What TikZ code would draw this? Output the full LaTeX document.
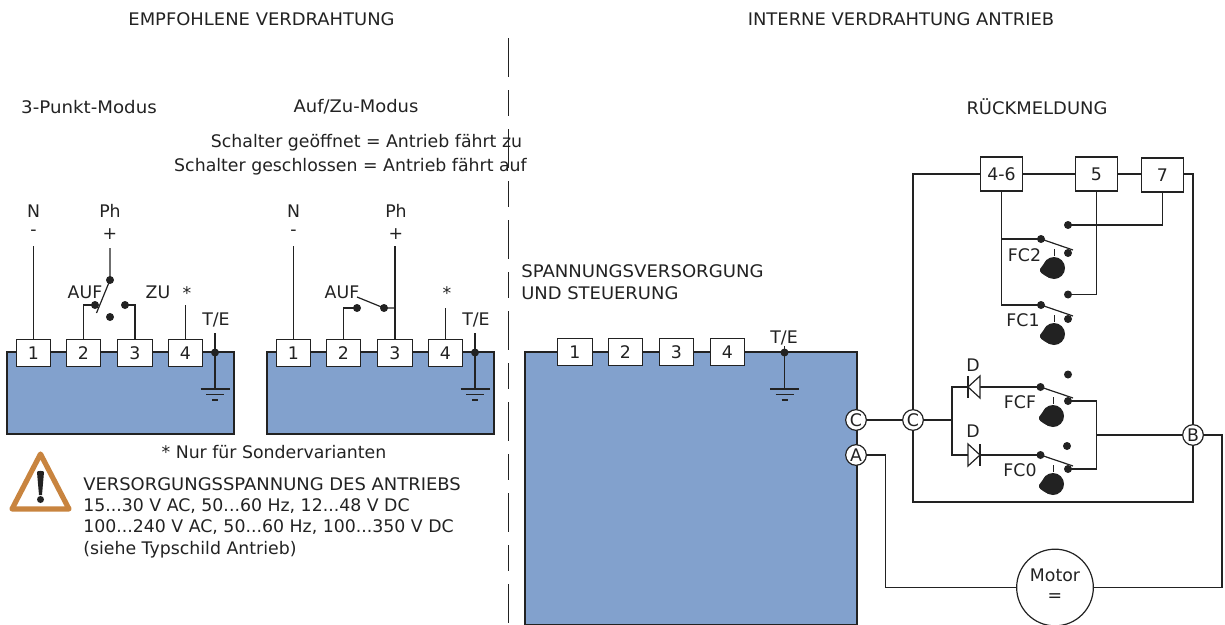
\documentclass[tikz,border=0pt]{standalone}
\usepackage{fontspec}
\usepackage{graphicx}
\setmainfont{DejaVu Sans}
\definecolor{ink}{HTML}{222222}
\definecolor{bluefill}{HTML}{82A1CD}
\definecolor{warn}{HTML}{C8843F}
\newcommand{\widen}[1]{\scalebox{1.035}[1]{#1}}
\tikzset{
  x=0.75pt,y=-0.75pt,
  lbl/.style={inner sep=0pt,text=ink,font=\fontsize{13}{15}\selectfont},
  lblleft/.style={lbl,anchor=west},
  wire/.style={draw=ink,line width=0.9pt},
  blockbox/.style={draw=ink,fill=bluefill,line width=1.1pt,inner sep=0pt},
  termbox/.style={draw=ink,fill=white,line width=0.9pt,inner sep=0pt,minimum width=25.8pt,minimum height=20pt,text=ink,font=\fontsize{13}{15}\selectfont},
  fbbox/.style={termbox,minimum width=32pt,minimum height=25.5pt},
  dotn/.style={circle,fill=ink,inner sep=0pt,minimum size=6pt},
  ringn/.style={circle,draw=ink,fill=white,line width=0.9pt,inner sep=0pt,minimum size=15.5pt,text=ink,font=\fontsize{13}{15}\selectfont},
  cam/.pic={\fill[ink] (0,0) circle (11) ; \fill[ink] (-7,-8.5) -- (-14,1) .. controls (-15,4) and (-12,6) .. (-5,9.8) -- cycle;
            \draw[wire,line width=0.6pt] (0,-19) -- (0,-12.5);},
  gnd/.pic={\draw[wire] (-14.5,0) -- (14.5,0); \draw[wire] (-9,5.5) -- (9,5.5); \draw[wire] (-3,11) -- (3,11);},
}
\begin{document}
\begin{tikzpicture}
\useasboundingbox (0,0) rectangle (1225,625);
% separator
\coordinate (sepA) at (508.7,38); \coordinate (sepB) at (508.7,625);
\draw[ink,line width=0.8pt,dash pattern=on 29.25pt off 9.75pt on 19.5pt off 9.75pt] (sepA) -- (sepB);
% titles
\node[lbl] (t1) at (261.5,19) {\widen{EMPFOHLENE VERDRAHTUNG}};
\node[lbl] (t2) at (901,19) {\widen{INTERNE VERDRAHTUNG ANTRIEB}};
\node[lbl] (t3) at (89,107) {\scalebox{1.05}[1]{3-Punkt-Modus}};
\node[lbl] (t4) at (356,107) {\widen{Auf/Zu-Modus}};
\node[lbl] (t5) at (1037,107) {\widen{RÜCKMELDUNG}};
\node[lbl] (t6) at (366.5,143) {Schalter geöffnet = Antrieb fährt zu};
\node[lbl] (t7) at (350.5,167) {Schalter geschlossen = Antrieb fährt auf};
\node[lblleft] (t8) at (521,271) {\scalebox{1.043}[1]{SPANNUNGSVERSORGUNG}};
\node[lblleft] (t9) at (521,293) {\widen{UND STEUERUNG}};
\node[lbl] (t10) at (274,452) {* Nur für Sondervarianten};
\node[lblleft] (w1) at (83,484) {\widen{VERSORGUNGSSPANNUNG DES ANTRIEBS}};
\node[lblleft] (w2) at (83,506) {15...30 V AC, 50...60 Hz, 12...48 V DC};
\node[lblleft] (w3) at (83,527) {100...240 V AC, 50...60 Hz, 100...350 V DC};
\node[lblleft] (w4) at (83,550) {(siehe Typschild Antrieb)};
% warning triangle
\draw[warn,line width=3.9pt,line join=round,fill=white] (40.5,454) -- (69,509) -- (12,509) -- cycle;
\fill[ink] (37,472) .. controls (37.5,470.5) and (43.5,470.5) .. (44,472) -- (42,495) -- (39,495) -- cycle;
\fill[ink] (40.5,499.5) circle (3.5);
% blocks
\node[blockbox,minimum width=170.25pt,minimum height=61.5pt] (blkA) at (120.5,393) {};
\node[blockbox,minimum width=170.25pt,minimum height=61.5pt] (blkB) at (380.5,393) {};
\node[blockbox,minimum width=249pt,minimum height=204.75pt] (blkC) at (691,488.5) {};
% terminals
\foreach \n/\x in {1/33.5,2/83.5,3/135,4/185.5} \node[termbox] (a\n) at (\x,353) {\n};
\foreach \n/\x in {1/293.5,2/343.5,3/395,4/445.5} \node[termbox] (b\n) at (\x,353) {\n};
\foreach \n/\x in {1/575,2/625.5,3/676.5,4/727.5} \node[termbox] (c\n) at (\x,352) {\n};
% labels mode A
\node[lbl] (aN) at (33.5,211) {N}; \node[lbl] (aM) at (33.5,233) {-};
\node[lbl] (aPh) at (110,211) {Ph}; \node[lbl] (aP) at (110,234) {+};
\node[lbl] (aAuf) at (85,292) {AUF}; \node[lbl] (aZu) at (158,292) {ZU};
\node[lbl] (aS) at (187,293) {*}; \node[lbl] (aTE) at (216,320) {T/E};
% labels mode B
\node[lbl] (bN) at (293.5,211) {N}; \node[lbl] (bM) at (293.5,233) {-};
\node[lbl] (bPh) at (396,211) {Ph}; \node[lbl] (bP) at (396,234) {+};
\node[lbl] (bAuf) at (342,292) {AUF};
\node[lbl] (bS) at (447,293) {*}; \node[lbl] (bTE) at (476,320) {T/E};
\node[lbl] (cTE) at (784,338) {T/E};
% mode A wiring
\coordinate (aN0) at (33.5,246); \draw[wire] (aN0) -- (a1.north);
\node[dotn] (aD0) at (110,280) {}; \node[dotn] (aD1) at (95,305) {}; \node[dotn] (aD2) at (110,317) {}; \node[dotn] (aD3) at (125,305) {};
\coordinate (aP0) at (110,248); \coordinate (aBl) at (96.5,313);
\draw[wire] (aP0) -- (aD0.center) -- (aBl);
\draw[wire] (a2.north) |- (aD1.center);
\draw[wire] (a3.north) |- (aD3.center);
\coordinate (a4T) at (185.5,305); \draw[wire] (a4T) -- (a4.north);
\node[dotn] (aE) at (215,352.5) {}; \coordinate (aE0) at (215,333); \coordinate (aG) at (215,389);
\draw[wire] (aE0) -- (aE.center) -- (aG);
\pic at (aG) {gnd};
% mode B wiring
\coordinate (bN0) at (293.5,246); \draw[wire] (bN0) -- (b1.north);
\coordinate (bP0) at (395,246); \draw[wire] (bP0) -- (b3.north);
\node[dotn] (bD1) at (384,308) {}; \node[dotn] (bD2) at (357,308) {};
\coordinate (bJ) at (395,308); \coordinate (bBl) at (357,297);
\draw[wire] (bJ) -- (bD1.center) -- (bBl);
\draw[wire] (b2.north) |- (bD2.center);
\coordinate (b4T) at (445.5,308); \draw[wire] (b4T) -- (b4.north);
\node[dotn] (bE) at (475,352.5) {}; \coordinate (bE0) at (475,333); \coordinate (bG) at (475,389);
\draw[wire] (bE0) -- (bE.center) -- (bG);
\pic at (bG) {gnd};
% internal earth
\node[dotn] (cE) at (784.5,352.5) {}; \coordinate (cE0) at (784.5,346); \coordinate (cG) at (784.5,389);
\draw[wire] (cE0) -- (cE.center) -- (cG);
\pic at (cG) {gnd};
% feedback boxes
\node[fbbox] (f46) at (1001.5,174) {4-6};
\node[fbbox] (f5) at (1096.5,174) {5};
\node[fbbox] (f7) at (1162.5,175) {7};
% rings and motor
\node[ringn] (rC) at (856,420) {C};
\node[ringn] (rA) at (856,455) {A};
\node[ringn] (rC2) at (913,420) {C};
\node[ringn] (rB) at (1193,435) {B};
\node[circle,draw=ink,fill=white,line width=0.9pt,inner sep=0pt,minimum size=57.5pt] (mot) at (1055,587.5) {};
\node[lbl] (motL) at (1055,575) {Motor};
\node[lbl] (motE) at (1055,598) {=};
% outer feedback loop
\draw[wire] (rC) -- (rC2);
\coordinate (ktl) at (913,174); \coordinate (ktr) at (1193,174); \coordinate (kbl) at (913,502); \coordinate (kbr) at (1193,502);
\draw[wire] (rC2) -- (ktl) -- (f46.west);
\draw[wire] (f46) -- (f5);
\draw[wire] (f5.east |- 0,174) -- (f7.west |- 0,174);
\draw[wire] (f7.east |- 0,174) -- (ktr) -- (rB);
\draw[wire] (rC2) -- (kbl) -- (kbr) -- (rB);
% motor loop
\coordinate (ma) at (885.5,455); \coordinate (mb) at (885.5,587.5); \coordinate (mc) at (1222,587.5); \coordinate (md) at (1222,435);
\draw[wire] (rA) -- (ma) -- (mb) -- (mot);
\draw[wire] (mot) -- (mc) -- (md) -- (rB);
% FC2 / FC1
\foreach \k/\y/\u in {FCb/239/225,FCa/305/294.5}{
  \node[dotn] (\k L) at (1041,\y) {};
  \node[dotn] (\k R) at (1068,\y+14) {};
  \node[dotn] (\k U) at (1068,\u) {};
  \coordinate (\k T) at (1073,\y+11);
  \draw[wire] (\k L.center) -- (\k T);
}
\coordinate (s46b) at (1001.5,239); \coordinate (s46a) at (1001.5,305);
\draw[wire] (f46.south) -- (s46a) -- (FCaL.center);
\draw[wire] (s46b) -- (FCbL.center);
\draw[wire] (FCbU.center) -| (f7.south);
\draw[wire] (FCaU.center) -| (f5.south);
\pic at (1054,268) {cam};
\pic at (1054,334) {cam};
\node[lbl] (lFC2) at (1024.5,255) {FC2};
\node[lbl] (lFC1) at (1023,320) {FC1};
% FCF / FC0
\foreach \k/\y in {FCF/387,FCO/455}{
  \node[dotn] (\k L) at (1040.5,\y) {};
  \node[dotn] (\k R) at (1068,\y+14) {};
  \coordinate (\k T) at (1073,\y+11);
  \draw[wire] (\k L.center) -- (\k T);
}
\node[dotn] (FCFU) at (1068,374.5) {};
\node[dotn] (FCOU) at (1067,446) {};
\coordinate (jC) at (952,420); \coordinate (jT) at (952,387); \coordinate (jB) at (952,455);
\coordinate (dUa) at (968,387); \coordinate (dUb) at (980,387);
\coordinate (dLa) at (968,455); \coordinate (dLb) at (980,455);
\draw[wire] (rC2) -- (jC);
\draw[wire] (dUa) -- (jT) -- (jB) -- (dLa);
\draw[wire] (dUb) -- (FCFL.center);
\draw[wire] (dLb) -- (FCOL.center);
\draw[wire,fill=white,line join=miter] (968,387) -- (980,376) -- (980,398) -- cycle;
\draw[wire] (968,376) -- (968,398);
\draw[wire,fill=white,line join=miter] (980,455) -- (968,444) -- (968,466) -- cycle;
\draw[wire] (980,444) -- (980,466);
\coordinate (rT) at (1096.5,401); \coordinate (rB2) at (1096.5,469); \coordinate (rM) at (1096.5,435);
\draw[wire] (FCFR.center) -- (rT) -- (rB2) -- (FCOR.center);
\draw[wire] (rM) -- (rB);
\pic at (1053,416) {cam};
\pic at (1053,484) {cam};
\node[lbl] (lFCF) at (1020,402) {FCF};
\node[lbl] (lFC0) at (1020,470) {FC0};
\node[lbl] (lD1) at (973,365) {D};
\node[lbl] (lD2) at (973,431) {D};
\end{tikzpicture}
\end{document}
